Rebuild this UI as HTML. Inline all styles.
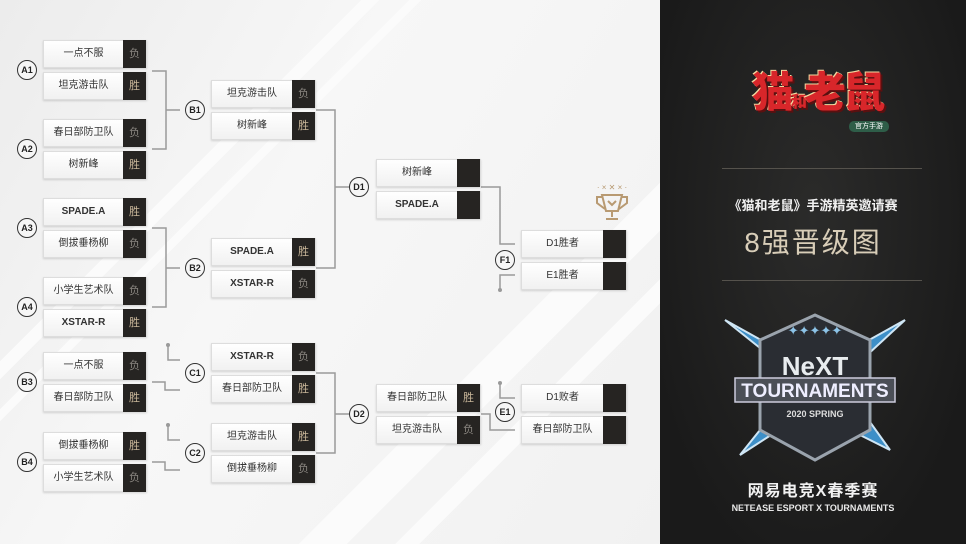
<!DOCTYPE html>
<html style="width:966px;height:544px;overflow:hidden"><head><meta charset="utf-8"><style>
*{margin:0;padding:0;box-sizing:border-box}
body{width:966px;height:544px;overflow:hidden;position:relative;font-family:"Liberation Sans","Noto Sans CJK SC",sans-serif;background:#f2f2f2}
.bg{position:absolute;left:0;top:0;width:660px;height:544px;background:
linear-gradient(135deg,transparent 0 30%,#fbfbfb 30% 31.5%,transparent 31.5% 34%,#fbfbfb 34% 35%,transparent 35% 70%,#fbfbfb 70% 74%,transparent 74% 78%,#fbfbfb 78% 80%,transparent 80%),
linear-gradient(120deg,#ececec 0%,#f7f7f7 40%,#f1f1f1 100%)}
.box{position:absolute;height:28px;background:linear-gradient(#fff,#f1f1f1);border:1px solid #ddd;box-shadow:0 1px 2px rgba(0,0,0,.15);font-size:10px;line-height:12px;color:#333;display:flex;align-items:center}
.box .n{flex:1;text-align:center}
.box .b{width:23px;height:28px;margin-top:-1px;margin-bottom:-1px;background:#262422;color:#c9b79a;font-size:11px;display:flex;align-items:center;justify-content:center}
.box .b.l{color:#8a8680}
.bold{font-weight:bold}
.c{position:absolute;width:20px;height:20px;border:1.5px solid #333;border-radius:50%;background:#f6f6f6;font-size:9px;font-weight:bold;color:#222;display:flex;align-items:center;justify-content:center;margin:-10px 0 0 -10px}
.rp{position:absolute;left:660px;top:0;width:306px;height:544px;overflow:hidden;background:radial-gradient(ellipse at 50% 40%,#2b2b2a,#1a1a1a 80%);}
</style></head><body>
<div class="bg"></div>
<svg style="position:absolute;left:0;top:0" width="660" height="544" fill="none" stroke="#9a9a9a" stroke-width="1.5">
<path d="M152 71H166V149H152M166 110H180"/>
<path d="M152 228H166V307H152M166 268H180"/>
<path d="M316 110H335V268H316M335 187H350"/>
<path d="M316 373H335V453H316M335 414H350"/>
<path d="M168 345V360H180M152 382H165V390H180"/>
<path d="M168 425V440H180M152 462H165V470H180"/>
<path d="M481 187H500V244H515"/>
<path d="M515 275H500V290"/>
<path d="M500 383V398H515M481 414H490V430H515"/>
<g fill="#9a9a9a" stroke="none"><circle cx="168" cy="345" r="2"/><circle cx="168" cy="425" r="2"/><circle cx="500" cy="290" r="2"/><circle cx="500" cy="383" r="2"/></g>
<g transform="translate(612,205)" stroke="#b89a72" stroke-width="2"><path d="M-10 -10H10L6 6H-6Z"/><path d="M-10 -8H-15V-2L-7 4M10 -8H15V-2L7 4"/><path d="M0 6V12M-6 14H6"/><path d="M-4 -4L0 0L4 -4"/></g>
<text x="612" y="190" fill="#b89a72" stroke="none" font-size="8" text-anchor="middle">· × ✕ × ·</text>
</svg>
<div class="box" style="left:43px;top:40px;width:104px"><span class="n">一点不服</span><span class="b l">负</span></div>
<div class="box" style="left:43px;top:72px;width:104px"><span class="n">坦克游击队</span><span class="b">胜</span></div>
<div class="box" style="left:43px;top:119px;width:104px"><span class="n">春日部防卫队</span><span class="b l">负</span></div>
<div class="box" style="left:43px;top:151px;width:104px"><span class="n">树新峰</span><span class="b">胜</span></div>
<div class="box" style="left:43px;top:198px;width:104px"><span class="n bold">SPADE.A</span><span class="b">胜</span></div>
<div class="box" style="left:43px;top:230px;width:104px"><span class="n">倒拔垂杨柳</span><span class="b l">负</span></div>
<div class="box" style="left:43px;top:277px;width:104px"><span class="n">小学生艺术队</span><span class="b l">负</span></div>
<div class="box" style="left:43px;top:309px;width:104px"><span class="n bold">XSTAR-R</span><span class="b">胜</span></div>
<div class="box" style="left:43px;top:352px;width:104px"><span class="n">一点不服</span><span class="b l">负</span></div>
<div class="box" style="left:43px;top:384px;width:104px"><span class="n">春日部防卫队</span><span class="b">胜</span></div>
<div class="box" style="left:43px;top:432px;width:104px"><span class="n">倒拔垂杨柳</span><span class="b">胜</span></div>
<div class="box" style="left:43px;top:464px;width:104px"><span class="n">小学生艺术队</span><span class="b l">负</span></div>
<div class="box" style="left:211px;top:80px;width:105px"><span class="n">坦克游击队</span><span class="b l">负</span></div>
<div class="box" style="left:211px;top:112px;width:105px"><span class="n">树新峰</span><span class="b">胜</span></div>
<div class="box" style="left:211px;top:238px;width:105px"><span class="n bold">SPADE.A</span><span class="b">胜</span></div>
<div class="box" style="left:211px;top:270px;width:105px"><span class="n bold">XSTAR-R</span><span class="b l">负</span></div>
<div class="box" style="left:211px;top:343px;width:105px"><span class="n bold">XSTAR-R</span><span class="b l">负</span></div>
<div class="box" style="left:211px;top:375px;width:105px"><span class="n">春日部防卫队</span><span class="b">胜</span></div>
<div class="box" style="left:211px;top:423px;width:105px"><span class="n">坦克游击队</span><span class="b">胜</span></div>
<div class="box" style="left:211px;top:455px;width:105px"><span class="n">倒拔垂杨柳</span><span class="b l">负</span></div>
<div class="box" style="left:376px;top:159px;width:105px"><span class="n">树新峰</span><span class="b"></span></div>
<div class="box" style="left:376px;top:191px;width:105px"><span class="n bold">SPADE.A</span><span class="b"></span></div>
<div class="box" style="left:376px;top:384px;width:105px"><span class="n">春日部防卫队</span><span class="b">胜</span></div>
<div class="box" style="left:376px;top:416px;width:105px"><span class="n">坦克游击队</span><span class="b l">负</span></div>
<div class="box" style="left:521px;top:230px;width:106px"><span class="n">D1胜者</span><span class="b"></span></div>
<div class="box" style="left:521px;top:262px;width:106px"><span class="n">E1胜者</span><span class="b"></span></div>
<div class="box" style="left:521px;top:384px;width:106px"><span class="n">D1败者</span><span class="b"></span></div>
<div class="box" style="left:521px;top:416px;width:106px"><span class="n">春日部防卫队</span><span class="b"></span></div>
<div class="c" style="left:27px;top:70px">A1</div><div class="c" style="left:27px;top:149px">A2</div>
<div class="c" style="left:27px;top:228px">A3</div><div class="c" style="left:27px;top:307px">A4</div>
<div class="c" style="left:27px;top:382px">B3</div><div class="c" style="left:27px;top:462px">B4</div>
<div class="c" style="left:195px;top:110px">B1</div><div class="c" style="left:195px;top:268px">B2</div>
<div class="c" style="left:195px;top:373px">C1</div><div class="c" style="left:195px;top:453px">C2</div>
<div class="c" style="left:359px;top:187px">D1</div><div class="c" style="left:359px;top:414px">D2</div>
<div class="c" style="left:505px;top:260px">F1</div><div class="c" style="left:505px;top:412px">E1</div>
<div class="rp">
<div style="position:absolute;left:92px;top:70px;font-size:42px;line-height:46px;font-weight:900;color:#d8262a;letter-spacing:-3px;text-shadow:2px 2px 0 #5a1010,-1px -1px 0 #f2d9a0;white-space:nowrap">猫<span style="font-size:16px">和</span>老鼠</div>
<div style="position:absolute;left:189px;top:121px;width:40px;height:11px;background:#2e5d48;border-radius:5px;color:#fff;font-size:7px;text-align:center;line-height:11px">官方手游</div>
<div style="position:absolute;left:62px;top:168px;width:200px;border-top:1px solid #55524c"></div>
<div style="position:absolute;left:0;top:197px;width:306px;text-align:center;color:#f0f0f0;font-size:13px;line-height:18px;font-weight:bold">《猫和老鼠》手游精英邀请赛</div>
<div style="position:absolute;left:0;top:226px;width:306px;text-align:center;color:#d8cdb8;font-size:28px;line-height:34px;letter-spacing:2px">8强晋级图</div>
<div style="position:absolute;left:62px;top:280px;width:200px;border-top:1px solid #55524c"></div>
<svg style="position:absolute;left:60px;top:300px" width="190" height="170">
<path d="M5 20L80 80L20 155L90 110L170 150L120 80L185 20L95 70Z" fill="#3d8fc8" stroke="#cfe6f5" stroke-width="2"/>
<path d="M40 40L95 15L150 40L150 130L95 160L40 130Z" fill="#2a2d33" stroke="#9aa3ad" stroke-width="3"/>
<text x="95" y="75" text-anchor="middle" font-size="26" font-weight="900" fill="#e8ecef" font-family="Liberation Sans">NeXT</text>
<rect x="15" y="78" width="160" height="24" fill="#4b4f57" stroke="#ccd" stroke-width="1.5"/>
<text x="95" y="97" text-anchor="middle" font-size="19" font-weight="900" fill="#eef" font-family="Liberation Sans">TOURNAMENTS</text>
<text x="95" y="117" text-anchor="middle" font-size="9" font-weight="bold" fill="#ddd" font-family="Liberation Sans">2020 SPRING</text>
<text x="95" y="35" text-anchor="middle" font-size="13" fill="#8cc3e8">✦✦✦✦✦</text>
</svg>
<div style="position:absolute;left:0;top:482px;width:306px;text-align:center;color:#f2f2f2;font-size:16px;line-height:20px;font-weight:bold;letter-spacing:1px">网易电竞X春季赛</div>
<div style="position:absolute;left:0;top:503px;width:306px;text-align:center;color:#e8e8e8;font-size:9px;line-height:11px;font-weight:bold">NETEASE ESPORT X TOURNAMENTS</div>
</div>
</body></html>
